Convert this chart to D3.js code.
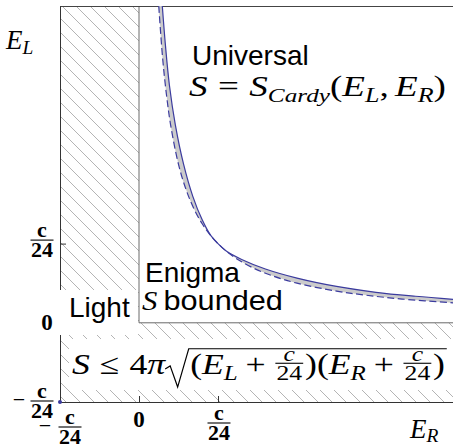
<!DOCTYPE html>
<html><head><meta charset="utf-8">
<script src="https://cdn.jsdelivr.net/npm/d3@7"></script>
<style>body{margin:0;background:#fff}svg{display:block}</style>
</head><body>
<script>
// ---- data (energies in units of c/24) ----
const xDomain = [-1, 4];            // E_R
const yDomain = [-1, 4];            // E_L
const xTicks = [-1, 0, 1];
const yTicks = [-1, 0, 1];
// tick label text: [sign, numerator, denominator] or plain
const tickText = { "-1": ["−", "c", "24"], "0": ["", "0", ""], "1": ["", "c", "24"] };
// dashed curve  E_L * E_R = (c/24)^2
const dashER = [0.25, 0.3, 0.35, 0.4, 0.5, 0.6, 0.7, 0.8, 0.9, 1.0, 1.11, 1.25, 1.43, 1.67, 2.0, 2.5, 2.86, 3.33, 4.0];
const dashEL = [4.0, 3.33, 2.86, 2.5, 2.0, 1.67, 1.43, 1.25, 1.11, 1.0, 0.9, 0.8, 0.7, 0.6, 0.5, 0.4, 0.35, 0.3, 0.25];
// solid boundary curve, upper branch and lower branch
const solidUpER = [0.295, 0.335, 0.385, 0.46, 0.565, 0.68, 0.8, 0.91, 1.0];
const solidUpEL = [4.0, 3.5, 3.0, 2.5, 2.0, 1.6, 1.3, 1.1, 1.0];
const solidLoER = [1.0, 1.1, 1.3, 1.6, 2.0, 2.5, 3.0, 3.5, 4.0];
const solidLoEL = [1.0, 0.91, 0.8, 0.68, 0.565, 0.46, 0.385, 0.335, 0.295];
const vacuumER = [-1];
const vacuumEL = [-1];
const labels = {
  universal: "Universal",
  enigma: "Enigma",
  bounded: "bounded",
  light: "Light"
};

// ---- drawing ----
const W = 453, H = 445;
const SERIF = "'Liberation Serif','Times New Roman',serif";
const SANS = "'Liberation Sans',Arial,Helvetica,sans-serif";
const BLUE = "#3b3b9e";

const svg = d3.select("body").append("svg").attr("width", W).attr("height", H);
const x = d3.scaleLinear().domain(xDomain).range([60, 455]);
const y = d3.scaleLinear().domain(yDomain).range([402, 6]);

const defs = svg.append("defs");
const pat = defs.append("pattern").attr("id", "hatch")
  .attr("patternUnits", "userSpaceOnUse").attr("width", 14).attr("height", 14);
pat.append("path").attr("d", "M-1,-1L15,15M13,-1L15,1M-1,13L1,15")
  .attr("stroke", "#b4b4b4").attr("stroke-width", 1).attr("fill", "none");
defs.append("clipPath").attr("id", "plotclip").append("rect")
  .attr("x", x(xDomain[0])).attr("y", y(yDomain[1]))
  .attr("width", x(xDomain[1]) - x(xDomain[0])).attr("height", y(yDomain[0]) - y(yDomain[1]));

// hatched forbidden regions (E_R<0, E_L<0)
svg.append("rect").attr("x", x(-1)).attr("y", y(4)).attr("width", x(0) - x(-1)).attr("height", y(-1) - y(4))
  .attr("fill", "url(#hatch)");
svg.append("rect").attr("x", x(0)).attr("y", y(0)).attr("width", x(4) - x(0)).attr("height", y(-1) - y(0))
  .attr("fill", "url(#hatch)");

// boundary lines E_R=0, E_L=0
svg.append("line").attr("x1", x(0)).attr("x2", x(0)).attr("y1", y(4)).attr("y2", y(0))
  .attr("stroke", "#6a6a6a").attr("stroke-width", 1);
svg.append("line").attr("x1", x(0)).attr("x2", x(4)).attr("y1", y(0)).attr("y2", y(0))
  .attr("stroke", "#6a6a6a").attr("stroke-width", 1);

// frame top
svg.append("line").attr("x1", x(-1)).attr("x2", x(4)).attr("y1", y(4) + 0.5).attr("y2", y(4) + 0.5)
  .attr("stroke", "#444").attr("stroke-width", 1);

// axes
const gx = svg.append("g").attr("transform", `translate(0,${y(-1)})`)
  .call(d3.axisBottom(x).tickValues(xTicks).tickSize(-6).tickSizeOuter(0).tickFormat(""));
const gy = svg.append("g").attr("transform", `translate(${x(-1)},0)`)
  .call(d3.axisLeft(y).tickValues(yTicks).tickSize(-6).tickSizeOuter(0).tickFormat(""));
[gx, gy].forEach(g => { g.selectAll("path,line").attr("stroke", "#333"); });

// curves
const plot = svg.append("g").attr("clip-path", "url(#plotclip)");
const dashPts = dashER.map((v, i) => [v, dashEL[i]]);
const upPts = solidUpER.map((v, i) => [v, solidUpEL[i]]);
const loPts = solidLoER.map((v, i) => [v, solidLoEL[i]]);
const line = d3.line().x(d => x(d[0])).y(d => y(d[1])).curve(d3.curveCatmullRom);
const solidPath = line(upPts) + line(loPts).replace(/^M/, "L");
const dashRev = dashPts.slice().reverse();
plot.append("path").attr("d", solidPath + line(dashRev).replace(/^M/, "L") + "Z")
  .attr("fill", "#cbcbcb").attr("stroke", "none");
plot.append("path").attr("d", solidPath).attr("fill", "none")
  .attr("stroke", BLUE).attr("stroke-width", 1.2);
plot.append("path").attr("d", line(dashPts)).attr("fill", "none")
  .attr("stroke", BLUE).attr("stroke-width", 1.2).attr("stroke-dasharray", "7,3.5");
svg.selectAll(".vac").data(vacuumER.map((v, i) => [v, vacuumEL[i]])).enter().append("circle")
  .attr("cx", d => x(d[0])).attr("cy", d => y(d[1])).attr("r", 2).attr("fill", BLUE);

// ---- mini math layout ----
function layout(g, items, x0, fs) {
  let cx = x0;
  for (const it of items) {
    if (it.sp !== undefined) { cx += it.sp * fs; continue; }
    if (it.frac) {
      const s = fs * (it.scale || 0.72);
      const num = g.append("text").attr("font-family", SERIF).attr("font-style", "italic")
        .attr("font-size", s).attr("text-anchor", "middle").text(it.frac[0]);
      const den = g.append("text").attr("font-family", SERIF)
        .attr("font-size", s).attr("text-anchor", "middle").text(it.frac[1]);
      const w = Math.max(num.node().getComputedTextLength(), den.node().getComputedTextLength()) + 0.16 * fs;
      const mid = cx + w / 2;
      const bar = -0.37 * fs;
      num.attr("x", mid).attr("y", bar - 0.09 * fs);
      den.attr("x", mid).attr("y", bar + 0.1 * fs + 0.66 * s);
      g.append("line").attr("x1", cx + 0.05 * fs).attr("x2", cx + w - 0.05 * fs)
        .attr("y1", bar).attr("y2", bar).attr("stroke", "#000").attr("stroke-width", 1.1);
      cx += w; continue;
    }
    if (it.sqrt) {
      const st = cx;
      cx += 0.7 * fs;
      cx = layout(g, it.sqrt, cx, fs);
      const top = -0.87 * fs;
      g.append("path")
        .attr("d", `M${st},${-0.17 * fs}L${st + 0.14 * fs},${-0.28 * fs}L${st + 0.35 * fs},${0.45 * fs}L${st + 0.66 * fs},${top}L${cx + 0.05 * fs},${top}`)
        .attr("fill", "none").attr("stroke", "#000").attr("stroke-width", 1.2)
        .attr("stroke-linejoin", "miter").attr("vector-effect", "non-scaling-stroke");
      continue;
    }
    const t = g.append("text").attr("x", cx).attr("y", (it.dy || 0) * fs)
      .attr("font-family", it.f === "sans" ? SANS : SERIF)
      .attr("font-style", it.f === "it" ? "italic" : "normal")
      .attr("font-size", fs * (it.s || 1)).attr("fill", "#000").text(it.t);
    cx += t.node().getComputedTextLength();
  }
  return cx;
}
function mathRow(items, x0, base, fs, targetW) {
  const g = svg.append("g");
  const inner = g.append("g");
  const w = layout(inner, items, 0, fs);
  const sx = targetW ? targetW / w : 1;
  g.attr("transform", `translate(${x0},${base}) scale(${sx},1)`);
  return g;
}

// white label boxes
svg.append("rect").attr("x", 57).attr("y", 290).attr("width", 81).attr("height", 45).attr("fill", "#fff");
svg.append("rect").attr("x", 69).attr("y", 339).attr("width", 390).attr("height", 51).attr("fill", "#fff");

// region labels
svg.append("text").attr("x", 192).attr("y", 65).attr("font-family", SANS).attr("font-size", 28).text(labels.universal);
mathRow([{ t: "S", f: "it" }, { sp: 0.28 }, { t: "=", f: "rm" }, { sp: 0.28 }, { t: "S", f: "it" },
  { t: "Cardy", f: "it", s: 0.68, dy: 0.22 }, { t: "(", f: "rm" }, { t: "E", f: "it" }, { t: "L", f: "it", s: 0.7, dy: 0.22 },
  { t: ",", f: "rm" }, { sp: 0.17 }, { t: "E", f: "it" }, { t: "R", f: "it", s: 0.7, dy: 0.22 }, { t: ")", f: "rm" }],
  189, 96, 29, 257);

svg.append("text").attr("x", 145).attr("y", 282).attr("font-family", SANS).attr("font-size", 28).text(labels.enigma);
mathRow([{ t: "S", f: "it" }, { sp: 0.2 }, { t: labels.bounded, f: "sans" }], 142, 310, 28, 141);
svg.append("text").attr("x", 69).attr("y", 317).attr("font-family", SANS).attr("font-size", 28).text(labels.light);

mathRow([{ t: "S", f: "it" }, { sp: 0.28 }, { t: "≤", f: "rm" }, { sp: 0.28 }, { t: "4", f: "rm" }, { t: "π", f: "it" },
  { sqrt: [{ t: "(", f: "rm" }, { t: "E", f: "it" }, { t: "L", f: "it", s: 0.7, dy: 0.2 }, { sp: 0.22 }, { t: "+", f: "rm" }, { sp: 0.22 },
    { frac: ["c", "24"] }, { t: ")", f: "rm" }, { t: "(", f: "rm" }, { t: "E", f: "it" }, { t: "R", f: "it", s: 0.7, dy: 0.2 },
    { sp: 0.22 }, { t: "+", f: "rm" }, { sp: 0.22 }, { frac: ["c", "24"] }, { t: ")", f: "rm" }] }],
  72, 374, 29, 373);

// axis titles
mathRow([{ t: "E", f: "it" }, { t: "L", f: "it", s: 0.72, dy: 0.2 }], 6, 49, 27);
mathRow([{ t: "E", f: "it" }, { t: "R", f: "it", s: 0.72, dy: 0.16 }], 410, 438, 27);

// tick labels (fractions)
function tickLabel(v, cx, bar, minusX, zeroBase) {
  const [sg, num, den] = tickText[String(v)];
  const fs = 22;
  if (!den) {
    svg.append("text").attr("x", cx).attr("y", zeroBase).attr("text-anchor", "middle")
      .attr("font-family", SERIF).attr("font-weight", "bold").attr("font-size", fs + 1).text(num);
    return;
  }
  const n = svg.append("text").attr("x", cx).attr("y", bar - 3.5).attr("text-anchor", "middle")
    .attr("font-family", SERIF).attr("font-weight", "bold").attr("font-size", fs).text(num);
  const d = svg.append("text").attr("x", cx).attr("y", bar + 17).attr("text-anchor", "middle")
    .attr("font-family", SERIF).attr("font-weight", "bold").attr("font-size", fs).text(den);
  const w = Math.max(n.node().getComputedTextLength(), d.node().getComputedTextLength()) + 1;
  svg.append("line").attr("x1", cx - w / 2).attr("x2", cx + w / 2).attr("y1", bar).attr("y2", bar)
    .attr("stroke", "#000").attr("stroke-width", 1.1);
  if (sg) {
    svg.append("text").attr("x", minusX).attr("y", bar + 5.5).attr("text-anchor", "middle")
      .attr("font-family", SERIF).attr("font-size", fs).text(sg);
  }
}
yTicks.forEach(v => {
  const ty = y(v);
  if (v === 0) tickLabel(v, 47, 0, 0, ty + 7.5);
  else if (v < 0) tickLabel(v, 42, ty - 1, 19, 0);
  else tickLabel(v, 42, ty - 3.5, 0, 0);
});
xTicks.forEach(v => {
  const tx = x(v);
  if (v === 0) tickLabel(v, tx, 0, 0, 427);
  else if (v < 0) tickLabel(v, tx + 10, 427, tx - 15, 0);
  else tickLabel(v, tx + 1, 423, 0, 0);
});
</script>
</body></html>
